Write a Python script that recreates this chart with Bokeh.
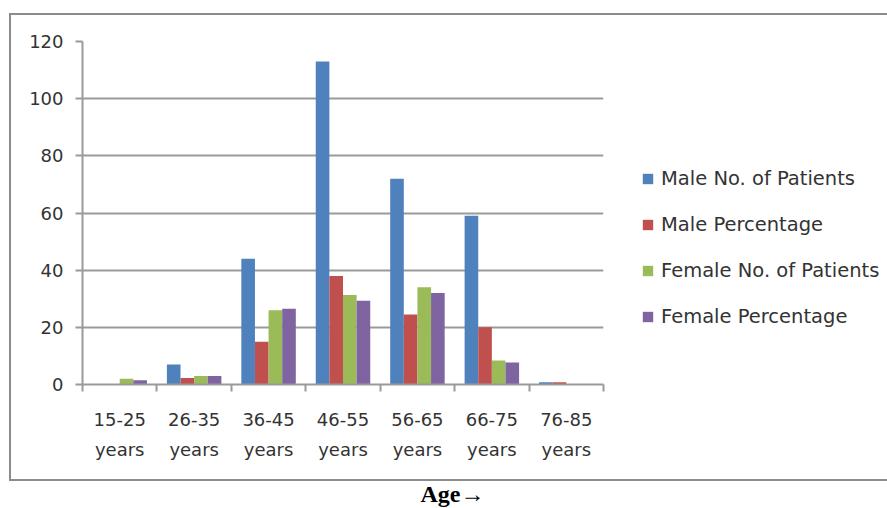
from bokeh.plotting import figure
from bokeh.models import (ColumnDataSource, FixedTicker, LinearAxis, Legend, LegendItem,
                          Title, Range1d, InlineStyleSheet)
from bokeh.transform import dodge
from bokeh.embed import file_html
from bokeh.resources import INLINE

categories = ["15-25", "26-35", "36-45", "46-55", "56-65", "66-75", "76-85"]
category_unit = "years"
male_no = [0, 7, 44, 113, 72, 59, 0.8]
male_pct = [0, 2.3, 15, 38, 24.5, 20, 0.8]
female_no = [2, 3, 26, 31.3, 34, 8.4, 0]
female_pct = [1.5, 3, 26.5, 29.3, 32, 7.7, 0]
series_names = ["Male No. of Patients", "Male Percentage", "Female No. of Patients", "Female Percentage"]
colors = ["#4F81BD", "#C0504D", "#9BBB59", "#8064A2"]
y_ticks = [0, 20, 40, 60, 80, 100, 120]
x_title = "Age\u2192"

FONT = "DejaVu Sans"
TXT = "#333333"
GRID = "#9a9a9a"

centers = [i + 0.5 for i in range(len(categories))]
src = ColumnDataSource(dict(x=centers, m_no=male_no, m_pct=male_pct, f_no=female_no, f_pct=female_pct))

box_css = InlineStyleSheet(css="""
:host { position: relative; }
:host::after {
  content: ""; position: absolute; left: 9px; top: 13px; width: 878px; height: 468px;
  box-sizing: border-box; border: 2px solid #8c8c8c; border-right: none; pointer-events: none;
}
""")

p = figure(width=887, height=508, output_backend="svg", toolbar_location=None,
           x_range=Range1d(0, len(categories)), y_range=Range1d(0, 120),
           frame_width=521, frame_height=343,
           min_border_left=82, min_border_top=41, min_border_right=284, min_border_bottom=124,
           x_axis_type=None, stylesheets=[box_css])
p.outline_line_color = None
p.background_fill_color = "white"
p.border_fill_color = "white"

bw = 0.183
offs = [-1.5 * bw, -0.5 * bw, 0.5 * bw, 1.5 * bw]
fields = ["m_no", "m_pct", "f_no", "f_pct"]
renderers = []
for f, o, c in zip(fields, offs, colors):
    r = p.vbar(x=dodge("x", o), top=f, width=bw, bottom=0, source=src, fill_color=c, line_color=None)
    renderers.append(r)

# y axis
p.yaxis.ticker = FixedTicker(ticks=y_ticks)
p.yaxis.axis_line_color = GRID
p.yaxis.axis_line_width = 2
p.yaxis.major_tick_line_color = GRID
p.yaxis.major_tick_line_width = 2
p.yaxis.major_tick_out = 7
p.yaxis.major_tick_in = 0
p.yaxis.minor_tick_line_color = None
p.yaxis.major_label_standoff = 12
p.yaxis.major_label_text_font = FONT
p.yaxis.major_label_text_font_size = "18px"
p.yaxis.major_label_text_color = TXT

p.ygrid.grid_line_color = GRID
p.ygrid.grid_line_width = 2
p.xgrid.grid_line_color = None

bounds = list(range(len(categories) + 1))
ax1 = LinearAxis(ticker=FixedTicker(ticks=centers, minor_ticks=bounds),
                 major_label_overrides={c: lab for c, lab in zip(centers, categories)})
ax1.axis_line_color = GRID
ax1.axis_line_width = 2
ax1.major_tick_line_color = None
ax1.major_tick_out = 0
ax1.major_tick_in = 0
ax1.minor_tick_line_color = GRID
ax1.minor_tick_line_width = 2
ax1.minor_tick_out = 7
ax1.minor_tick_in = 0
ax1.major_label_standoff = 21
ax1.major_label_text_font = FONT
ax1.major_label_text_font_size = "18px"
ax1.major_label_text_color = TXT
p.add_layout(ax1, "below")

ax2 = LinearAxis(ticker=FixedTicker(ticks=centers),
                 major_label_overrides={c: category_unit for c in centers})
ax2.axis_line_color = None
ax2.major_tick_line_color = None
ax2.minor_tick_line_color = None
ax2.major_label_standoff = 4
ax2.major_label_text_font = FONT
ax2.major_label_text_font_size = "18px"
ax2.major_label_text_color = TXT
p.add_layout(ax2, "below")

title = Title(text=x_title, align="left", offset=338, standoff=32,
              text_font="Liberation Serif", text_font_style="bold", text_font_size="24px",
              text_color="black")
p.add_layout(title, "below")

legend = Legend(items=[LegendItem(label=n, renderers=[r]) for n, r in zip(series_names, renderers)],
                location=(38, 56), orientation="vertical",
                glyph_width=13, glyph_height=13, label_height=22, spacing=23,
                label_standoff=7, padding=0, margin=0,
                label_text_font=FONT, label_text_font_size="19.5px", label_text_color=TXT,
                border_line_color=None, background_fill_alpha=0)
p.add_layout(legend, "right")

open("out.html", "w").write(file_html(p, INLINE))
